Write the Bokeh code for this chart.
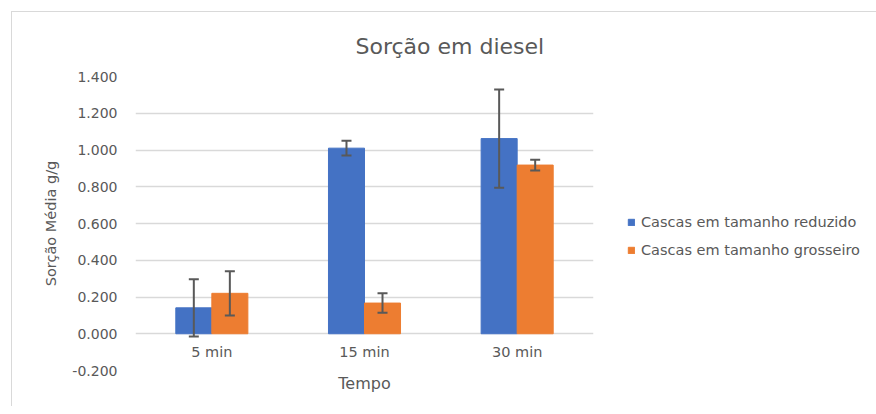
from bokeh.plotting import figure
from bokeh.models import (ColumnDataSource, FactorRange, FixedTicker, NumeralTickFormatter,
                          Legend, LegendItem, Title, Range1d)
from bokeh.transform import dodge
from bokeh.core.properties import value
from bokeh.embed import file_html
from bokeh.resources import INLINE

# ---- data ----
categories = ["5 min", "15 min", "30 min"]
series_names = ["Cascas em tamanho reduzido", "Cascas em tamanho grosseiro"]
reduzido = [0.141, 1.010, 1.062]
reduzido_err = [0.156, 0.040, 0.267]
grosseiro = [0.220, 0.167, 0.918]
grosseiro_err = [0.120, 0.053, 0.029]
y_ticks = [-0.2, 0.0, 0.2, 0.4, 0.6, 0.8, 1.0, 1.2, 1.4]
title_text = "Sorção em diesel"
x_title = "Tempo"
y_title = "Sorção Média g/g"

BLUE = "#4472C4"
ORANGE = "#ED7D31"
TXT = "#595959"
GRID = "#D9D9D9"
FONT = "DejaVu Sans"

src = ColumnDataSource(dict(
    cat=categories,
    red=reduzido,
    red_up=[v + e for v, e in zip(reduzido, reduzido_err)],
    red_lo=[v - e for v, e in zip(reduzido, reduzido_err)],
    gro=grosseiro,
    gro_up=[v + e for v, e in zip(grosseiro, grosseiro_err)],
    gro_lo=[v - e for v, e in zip(grosseiro, grosseiro_err)],
    base=[0.0] * len(categories),
))

p = figure(x_range=FactorRange(*categories, range_padding=0),
           y_range=Range1d(y_ticks[0], y_ticks[-1]),
           frame_width=458, frame_height=294, output_backend="svg", toolbar_location=None,
           min_border_left=123, min_border_right=0, min_border_top=64, min_border_bottom=36,
           outline_line_color=None, background_fill_color="white", border_fill_color="white",
           styles={"margin-left": "11px", "margin-top": "11px",
                   "border-top": "1px solid #D9D9D9", "border-left": "1px solid #D9D9D9"})

off = 0.118
bw = 0.236
r1 = p.vbar(x=dodge("cat", -off, range=p.x_range), top="red", bottom=0, width=bw, source=src,
            fill_color=BLUE, line_color=BLUE)
r2 = p.vbar(x=dodge("cat", off, range=p.x_range), top="gro", bottom=0, width=bw, source=src,
            fill_color=ORANGE, line_color=ORANGE)

for o, up, lo in [(-off, "red_up", "red_lo"), (off, "gro_up", "gro_lo")]:
    xs = dodge("cat", o, range=p.x_range)
    p.segment(x0=xs, x1=xs, y0=lo, y1=up, source=src, line_color=TXT, line_width=2)
    p.scatter(x=xs, y=up, marker="dash", size=10, source=src, line_color=TXT, line_width=2)
    p.scatter(x=xs, y=lo, marker="dash", size=10, source=src, line_color=TXT, line_width=2)

# category labels below the zero line
p.text(x="cat", y="base", text="cat", source=src, y_offset=10,
       text_align="center", text_baseline="top", text_font=value(FONT),
       text_font_size="14.5px", text_color=TXT)

# axes
p.yaxis.ticker = FixedTicker(ticks=y_ticks)
p.yaxis.formatter = NumeralTickFormatter(format="0.000")
p.yaxis.axis_line_color = None
p.yaxis.major_tick_line_color = None
p.yaxis.minor_tick_line_color = None
p.yaxis.major_tick_out = 0
p.yaxis.major_label_standoff = 18
p.yaxis.major_label_text_font = FONT
p.yaxis.major_label_text_font_size = "14px"
p.yaxis.major_label_text_color = TXT
p.yaxis.axis_label = y_title
p.yaxis.axis_label_text_font = FONT
p.yaxis.axis_label_text_font_size = "14.5px"
p.yaxis.axis_label_text_font_style = "normal"
p.yaxis.axis_label_text_color = TXT
p.yaxis.axis_label_standoff = 10

p.xaxis.visible = False
p.xgrid.grid_line_color = None
p.ygrid.grid_line_color = GRID
p.ygrid.grid_line_width = 1.5

# titles
p.add_layout(Title(text=title_text, align="left", offset=220, text_font=FONT,
                   text_font_size="22px", text_font_style="normal", text_color=TXT,
                   standoff=36), "above")
p.add_layout(Title(text=x_title, align="center", text_font=FONT,
                   text_font_size="16px", text_font_style="normal", text_color=TXT,
                   standoff=3), "below")

legend = Legend(items=[LegendItem(label=series_names[0], renderers=[r1]),
                       LegendItem(label=series_names[1], renderers=[r2])],
                location=(34, 110), orientation="vertical",
                glyph_width=8, glyph_height=8, label_standoff=6, spacing=8,
                label_height=20, padding=0, margin=0,
                border_line_color=None, background_fill_alpha=0,
                label_text_font=FONT, label_text_font_size="14.5px", label_text_color=TXT)
p.add_layout(legend, "right")

open("out.html", "w").write(file_html(p, INLINE))
